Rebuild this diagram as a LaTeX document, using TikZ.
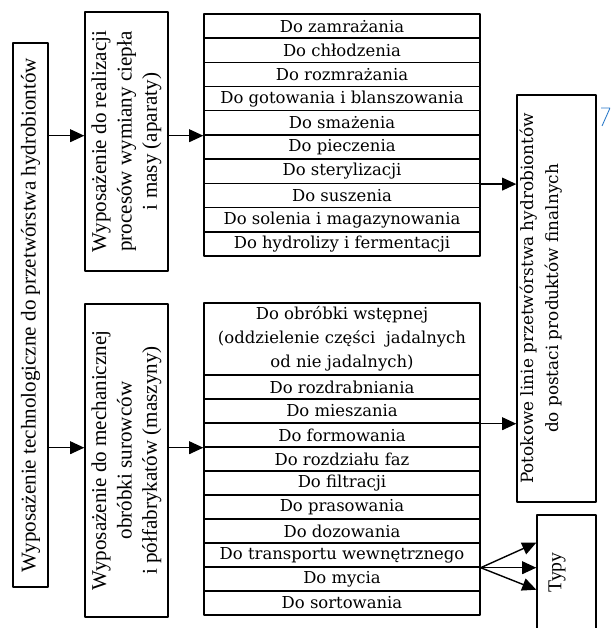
\documentclass[tikz,border=0pt]{standalone}
\usepackage{fontspec}
\setmainfont{Liberation Serif}
\newfontfamily\listfont{DejaVu Serif}
\usetikzlibrary{arrows.meta,calc}

\definecolor{niebieski}{RGB}{40,120,200}

\tikzset{
  blok/.style={
    draw,
    line width=1pt,
    inner sep=0pt,
    align=center,
    font=\fontsize{15}{18}\selectfont
  },
  wiersz/.style={
    draw,
    line width=1pt,
    inner sep=0pt,
    minimum width=276*\px,
    minimum height=24.2*\px,
    font=\listfont\fontsize{11.7}{17}\selectfont
  },
  strzalka/.style={
    line width=1pt,
    -{Triangle[length=10pt,width=9pt]}
  }
}

\begin{document}
\begin{tikzpicture}[
  x=0.025cm,
  y=-0.025cm,
  line join=round
]
  \def\px{0.025cm}

  \useasboundingbox (0,0) rectangle (610,628);
  \clip (0,0) rectangle (610,628);

  % Lewy blok
  \node[blok, rotate=90, minimum width=544*\px, minimum height=35*\px]
    (technologia) at (30.5,315)
    {Wyposażenie technologiczne do przetwórstwa hydrobiontów};

  % Aparaty i maszyny
  \node[blok, rotate=90, minimum width=259*\px, minimum height=83*\px]
    (aparaty) at (126.5,141.5)
    {Wyposażenie do realizacji\\procesów wymiany ciepła\\i masy (aparaty)};

  \node[blok, rotate=90, minimum width=313*\px, minimum height=83*\px]
    (maszyny) at (126.5,460.5)
    {Wyposażenie do mechanicznej\\obróbki surowców\\i półfabrykatów (maszyny)};

  % Lista aparatów
  \foreach \tekst [count=\i] in {
    Do zamrażania, Do chłodzenia, Do rozmrażania,
    Do gotowania i blanszowania, Do smażenia, Do pieczenia,
    Do sterylizacji, Do suszenia, Do solenia i magazynowania,
    Do hydrolizy i fermentacji}
    \node[wiersz] (g\i) at (342,{14+24.2*\i-12.1}) {\tekst};

  % Lista maszyn
  \node[wiersz, minimum height=72*\px, align=center] (m1) at (342,339)
    {Do obróbki wstępnej\\(oddzielenie części~ jadalnych\\od nie jadalnych)};

  \foreach \tekst [count=\i from 2] in {
    Do rozdrabniania, Do mieszania, Do formowania,
    Do rozdziału faz, Do filtracji, Do prasowania, Do dozowania,
    Do transportu wewnętrznego, Do mycia, Do sortowania}
    \node[wiersz, minimum height=24*\px] (m\i) at (342,{375+24*\i-36}) {\tekst};

  % Linie potokowe
  \node[draw, line width=1pt, minimum width=79*\px, minimum height=407*\px]
    (linie) at (556.5,298.5) {};
  \node[rotate=90, anchor=north, align=center, inner sep=3*\px,
    font=\listfont\fontsize{12}{17.8}\selectfont]
    (linieTekst) at (linie.west)
    {Potokowe linie przetwórstwa hydrobiontów\\do postaci produktów finalnych};

  % Typy
  \node[draw, line width=1pt, minimum width=59*\px, minimum height=115*\px]
    (typy) at (566.5,572.5) {};
  \node[rotate=90, anchor=north, inner sep=12*\px,
    font=\fontsize{14}{17}\selectfont]
    (typyTekst) at (typy.west) {Typy};

  % Strzałki
  \draw[strzalka]
    (technologia.south |- g5.south) -- (aparaty.north |- g5.south);
  \draw[strzalka]
    (aparaty.south |- g5.south) -- (g5.south west);

  \draw[strzalka]
    (technologia.south |- m4.south) -- (maszyny.north |- m4.south);
  \draw[strzalka]
    (maszyny.south |- m4.south) -- (m4.south west);

  \draw[strzalka]
    (g7.south east) -- (linie.west |- g7.south east);
  \draw[strzalka]
    (m3.south east) -- (linie.west |- m3.south east);

  \draw[strzalka]
    (m9.south east) -- ($(typy.west |- m9.south)+(0,-25)$);
  \draw[strzalka]
    (m9.south east) -- (typy.west |- m9.south);
  \draw[strzalka]
    (m9.south east) -- ($(typy.west |- m9.south)+(0,22)$);

  % Znak w rogu
  \draw[niebieski, line width=0.6pt]
    (601,108) -- (610,108) -- (602,126);
\end{tikzpicture}
\end{document}
